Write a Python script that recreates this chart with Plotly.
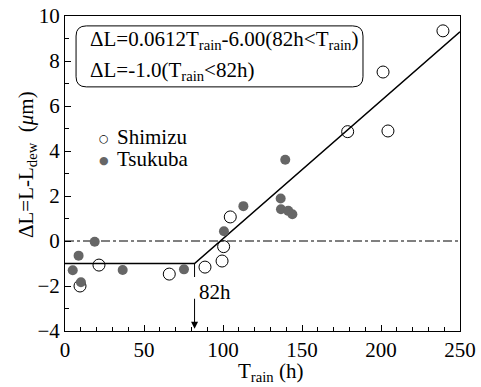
import plotly.graph_objects as go

# Data
shimizu_t = [9.5, 21.5, 66, 88.6, 99.4, 100.4, 104.6, 178.9, 204.4, 201.3, 239.2]
shimizu_dl = [-2.0, -1.07, -1.47, -1.16, -0.89, -0.25, 1.07, 4.86, 4.89, 7.51, 9.34]
tsukuba_t = [4.9, 8.6, 10.1, 18.8, 36.5, 75.3, 100.6, 112.9, 139.4, 136.5, 136.7, 141.3, 143.9]
tsukuba_dl = [-1.30, -0.65, -1.83, -0.03, -1.29, -1.26, 0.43, 1.55, 3.61, 1.89, 1.41, 1.34, 1.19]
series_names = ["Shimizu", "Tsukuba"]

slope, intercept, t_break, flat_val = 0.0612, -6.00, 82, -1.0
fit_t = [0, t_break, 250]
fit_dl = [flat_val, flat_val, slope * 250 + intercept]

FONT = "Liberation Serif"
fig = go.Figure()

fig.add_trace(go.Scatter(x=[0, 250], y=[0, 0], mode="lines",
                         line=dict(color="black", width=1, dash="dashdot"),
                         showlegend=False, hoverinfo="skip"))
fig.add_trace(go.Scatter(x=fit_t, y=fit_dl, mode="lines",
                         line=dict(color="black", width=1.6),
                         showlegend=False, hoverinfo="skip"))
fig.add_trace(go.Scatter(x=shimizu_t, y=shimizu_dl, mode="markers", name=series_names[0],
                         showlegend=False,
                         marker=dict(symbol="circle-open", size=12, color="black",
                                     line=dict(width=1))))
fig.add_trace(go.Scatter(x=tsukuba_t, y=tsukuba_dl, mode="markers", name=series_names[1],
                         showlegend=False,
                         marker=dict(symbol="circle", size=10, color="#666666")))

def px_x(p):
    return (p - 65) / 395

def px_y(p):
    return (331 - p) / 315

# legend as text (glyph + label)
for name, glyph, col, ypx in [(series_names[0], "○", "black", 137),
                              (series_names[1], "●", "#666666", 159)]:
    fig.add_annotation(x=px_x(104), y=px_y(ypx + 1), xref="paper", yref="paper",
                       showarrow=False, xanchor="center", yanchor="middle",
                       text=glyph, font=dict(family="DejaVu Sans", size=11, color=col))
    fig.add_annotation(x=px_x(115), y=px_y(ypx), xref="paper", yref="paper",
                       showarrow=False, xanchor="left", yanchor="middle",
                       text=name, font=dict(family=FONT, size=21, color="black"))

# 82h marker line and arrow
fig.add_shape(type="line", x0=t_break, x1=t_break, y0=flat_val, y1=-1.6,
              line=dict(color="black", width=1))
fig.add_annotation(x=t_break, y=-3.9, ax=t_break, ay=-2.5, axref="x", ayref="y",
                   xref="x", yref="y", text="", showarrow=True, arrowhead=2,
                   arrowsize=1.4, arrowwidth=1, arrowcolor="black")
fig.add_annotation(x=t_break + 1.5, y=-2.25, text="82h", showarrow=False,
                   xanchor="left", yanchor="middle",
                   font=dict(family=FONT, size=21, color="black"))

# rounded box
x0, x1, y0, y1 = 7.0, 188.6, 6.85, 9.56
rx, ry = 6.5, 0.45
path = (f"M {x0+rx},{y1} L {x1-rx},{y1} Q {x1},{y1} {x1},{y1-ry} "
        f"L {x1},{y0+ry} Q {x1},{y0} {x1-rx},{y0} L {x0+rx},{y0} "
        f"Q {x0},{y0} {x0},{y0+ry} L {x0},{y1-ry} Q {x0},{y1} {x0+rx},{y1} Z")
fig.add_shape(type="path", path=path, xref="x", yref="y",
              line=dict(color="black", width=1))
fig.add_annotation(x=14.6, y=8.94, xref="x", yref="y", showarrow=False,
                   xanchor="left", yanchor="middle",
                   text="ΔL=0.0612T<sub>rain</sub>-6.00(82h&lt;T<sub>rain</sub>)",
                   font=dict(family=FONT, size=21, color="black"))
fig.add_annotation(x=14.6, y=7.56, xref="x", yref="y", showarrow=False,
                   xanchor="left", yanchor="middle",
                   text="ΔL=-1.0(T<sub>rain</sub>&lt;82h)",
                   font=dict(family=FONT, size=21, color="black"))

# axis titles
fig.add_annotation(x=px_x(27), y=px_y(165), xref="paper", yref="paper",
                   showarrow=False, textangle=-90, xanchor="center", yanchor="middle",
                   text="ΔL=L-L<sub>dew</sub>  (<i>μ</i>m)",
                   font=dict(family=FONT, size=21, color="black"))
fig.add_annotation(x=px_x(270), y=px_y(372), xref="paper", yref="paper",
                   showarrow=False, xanchor="center", yanchor="middle",
                   text="T<sub>rain</sub> (h)",
                   font=dict(family=FONT, size=21, color="black"))

fig.update_layout(
    width=481, height=387,
    margin=dict(l=65, r=21, t=16, b=56),
    paper_bgcolor="white", plot_bgcolor="white",
    font=dict(family=FONT, size=20, color="black"),
    showlegend=False,
    xaxis=dict(range=[0, 250], tickvals=[0, 50, 100, 150, 200, 250],
               ticks="inside", ticklen=6, tickcolor="black", automargin=False,
               minor=dict(dtick=10, ticks="inside", ticklen=4, tickcolor="black"),
               showline=True, linecolor="black", linewidth=1, mirror=True,
               showgrid=False, zeroline=False,
               tickfont=dict(family=FONT, size=21, color="black")),
    yaxis=dict(range=[-4, 10], tickvals=[-4, -2, 0, 2, 4, 6, 8, 10],
               ticks="inside", ticklen=6, tickcolor="black", automargin=False,
               minor=dict(dtick=1, ticks="inside", ticklen=4, tickcolor="black"),
               showline=True, linecolor="black", linewidth=1, mirror=True,
               showgrid=False, zeroline=False,
               tickfont=dict(family=FONT, size=21, color="black")),
)

fig.write_html("out.html")
